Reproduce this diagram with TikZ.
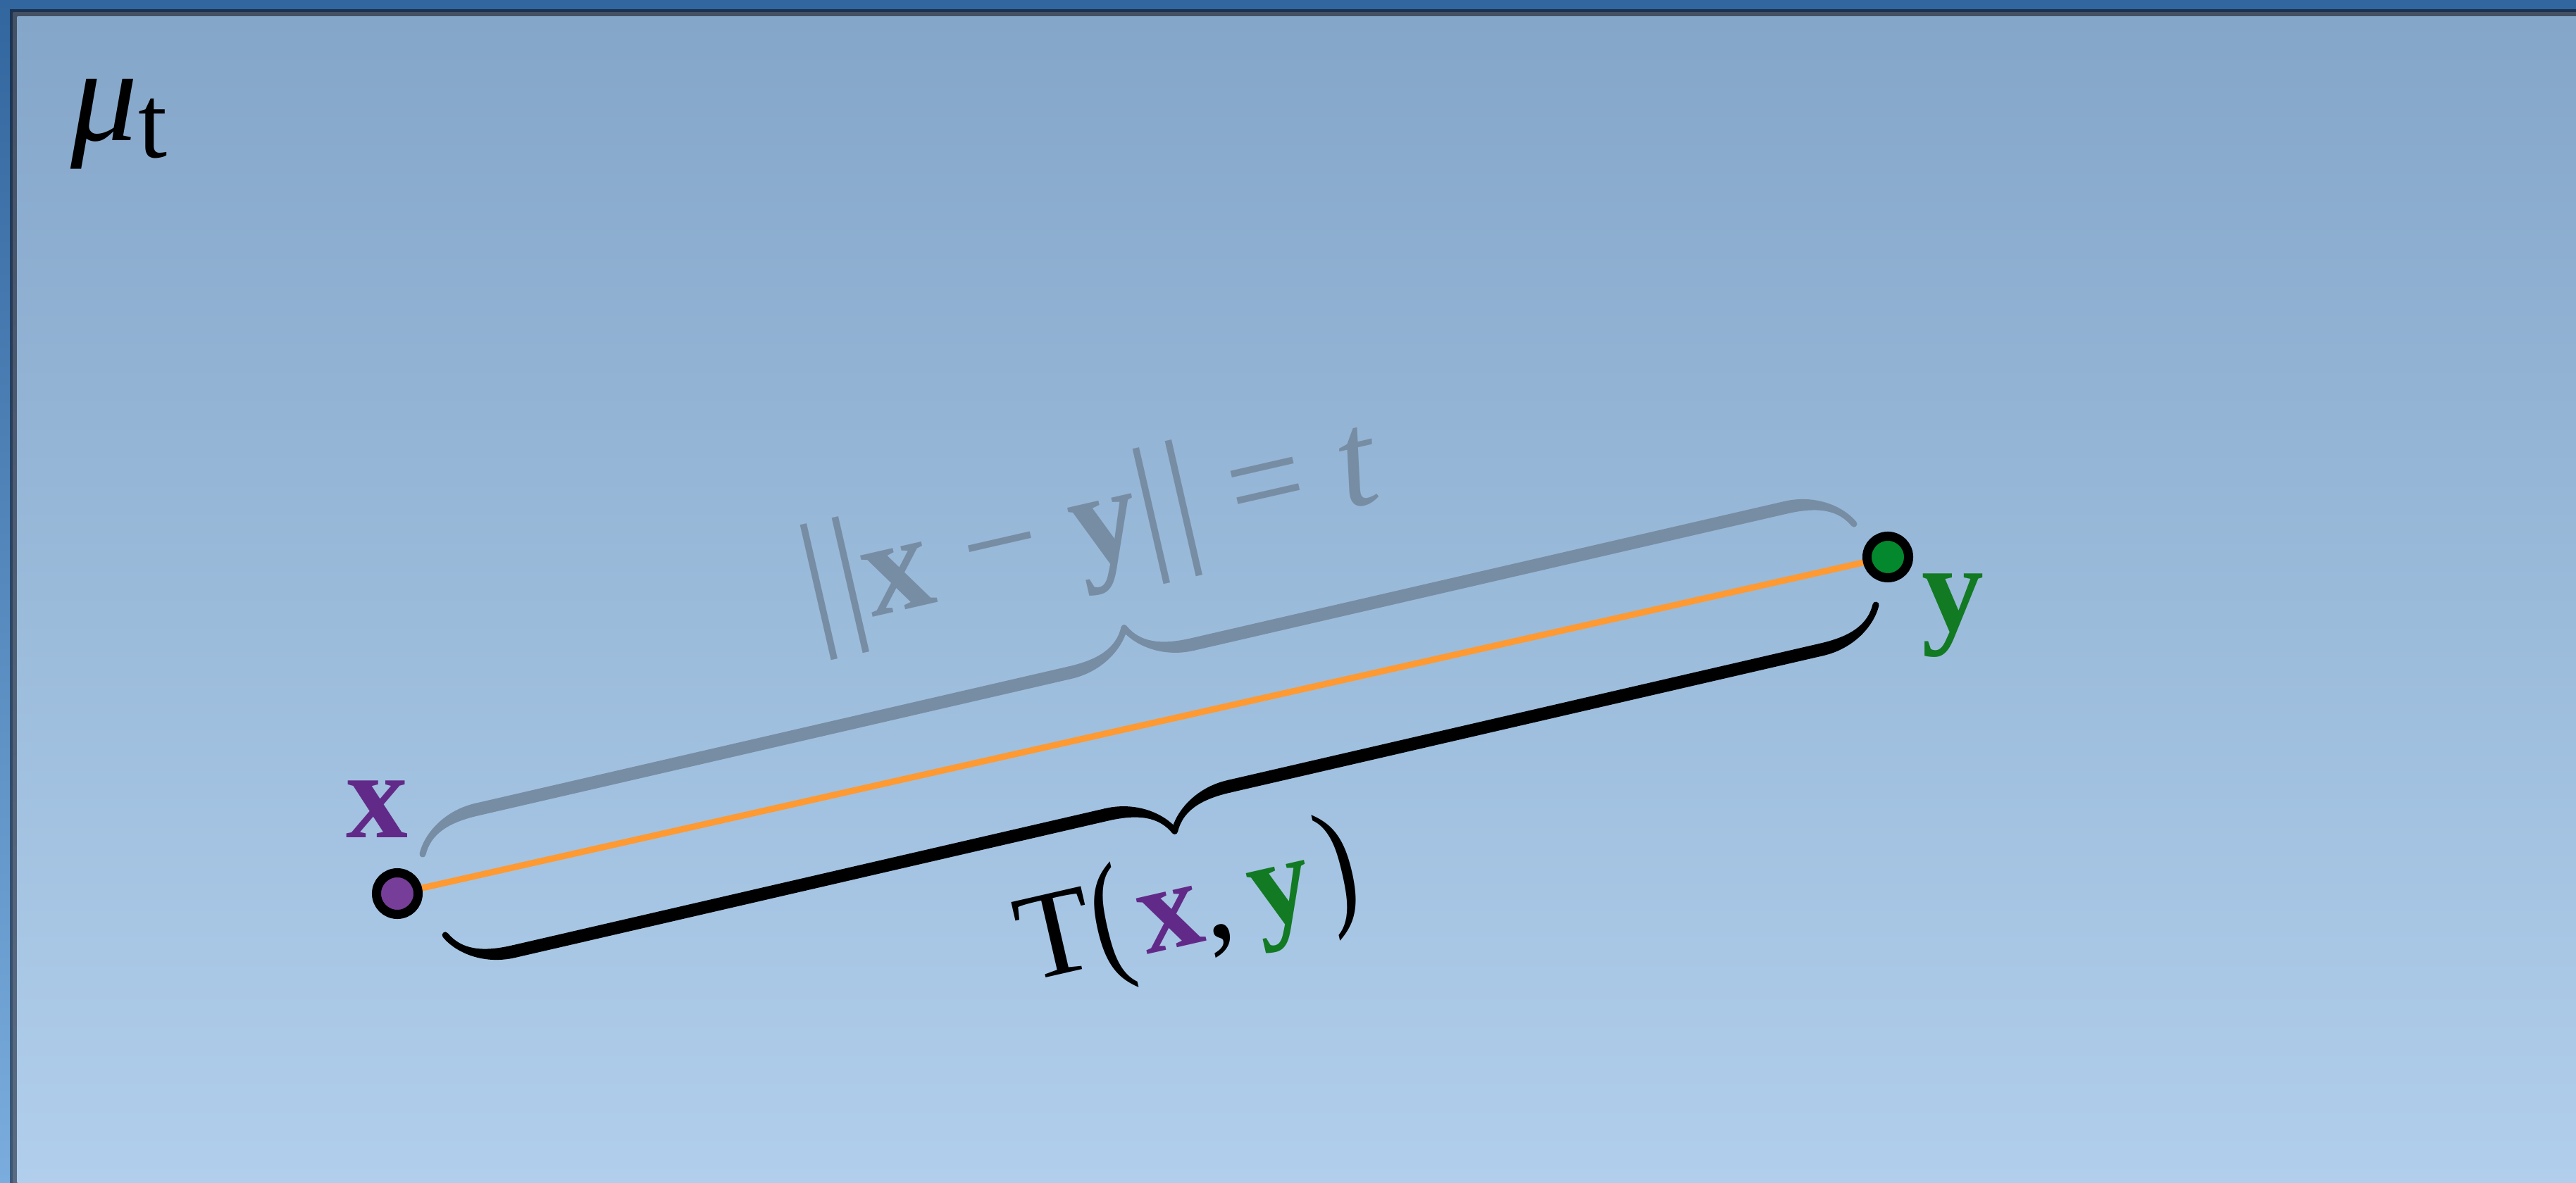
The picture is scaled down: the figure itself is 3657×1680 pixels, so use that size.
\documentclass[tikz,border=0pt]{standalone}
\usepackage{fontspec}
\setmainfont{Liberation Serif}
\usepackage{graphicx}
\usetikzlibrary{decorations.pathreplacing,calligraphy}
\definecolor{frameTop}{HTML}{32669E}
\definecolor{frameBot}{HTML}{7AADDD}
\definecolor{darkTop}{HTML}{1B3352}
\definecolor{darkBot}{HTML}{3A5878}
\definecolor{grayTop}{HTML}{445064}
\definecolor{grayBot}{HTML}{5A6A80}
\definecolor{panelTop}{HTML}{84A6C9}
\definecolor{panelBot}{HTML}{B1CFEC}
\definecolor{xtext}{HTML}{622A88}
\definecolor{xdot}{HTML}{763E99}
\definecolor{ytext}{HTML}{127A22}
\definecolor{ydot}{HTML}{04882E}
\definecolor{lineOrange}{HTML}{FF9A33}
\definecolor{braceGray}{HTML}{778DA4}
\tikzset{
  dotnode/.style={circle, draw=black, line width=1.3mm, inner sep=0pt, minimum size=5.9mm},
  biglabel/.style={inner sep=0pt, font=\fontsize{50}{60}\selectfont},
  normlabel/.style={inner sep=0pt, font=\fontsize{55}{66}\selectfont},
  bracestyle/.style={decorate, decoration={calligraphic brace, amplitude=8.9mm}, line width=1.8mm}
}
\newcommand{\tallbar}{\scalebox{1}[1.12]{|}}
\newcommand{\tallparen}[1]{\scalebox{0.85}[1.15]{#1}}
\begin{document}
\begin{tikzpicture}[x=0.01cm,y=-0.01cm]
\useasboundingbox (0,0) rectangle (3657,1680);
\shade[top color=frameTop, bottom color=frameBot] (0,0) rectangle (3657,1680);
\shade[top color=darkTop, bottom color=darkBot] (14,13.5) rectangle (3657,1680);
\shade[top color=grayTop, bottom color=grayBot] (18.5,17.5) rectangle (3657,1680);
\shade[top color=panelTop, bottom color=panelBot] (24.5,24) rectangle (3657,1680);

% mu_t
\node[biglabel, anchor=base west] (mu) at (100,200) {\fontsize{54}{60}\selectfont\textit{μ}\raisebox{-2.4mm}{\fontsize{42}{48}\selectfont t}};

% points
\coordinate (xc) at (564,1269);
\coordinate (yc) at (2680,791);
\draw[lineOrange, line width=0.9mm] (xc) -- (yc);
\node[dotnode, fill=xdot] (xdotn) at (xc) {};
\node[dotnode, fill=ydot] (ydotn) at (yc) {};
\node[biglabel, anchor=base, text=xtext] (xlab) at (535,1190) {\textbf{x}};
\node[biglabel, anchor=base, text=ytext] (ylab) at (2772,896) {\textbf{y}};

% braces
\coordinate (g1) at (600,1213);
\coordinate (g2) at (2632,744);
\coordinate (b1) at (2663,859);
\coordinate (b2) at (632,1328);
\draw[bracestyle, pen colour=braceGray] (g1) -- (g2);
\draw[bracestyle, pen colour=black] (b1) -- (b2);

% labels
\node[normlabel, rotate=12.9, text=braceGray] (normlab) at (1550,752)
  {\tallbar\kern0.04em\tallbar\textbf{x} − \textbf{y}\tallbar\kern0.04em\tallbar{} = \textit{t}};
\node[biglabel, rotate=12.9] (tlab) at (1687,1292)
  {T\tallparen{(}\kern0.1em\textcolor{xtext}{\textbf{x}}\textit{,}\,\textcolor{ytext}{\textbf{y}}\kern0.1em\tallparen{)}};
\end{tikzpicture}
\end{document}
